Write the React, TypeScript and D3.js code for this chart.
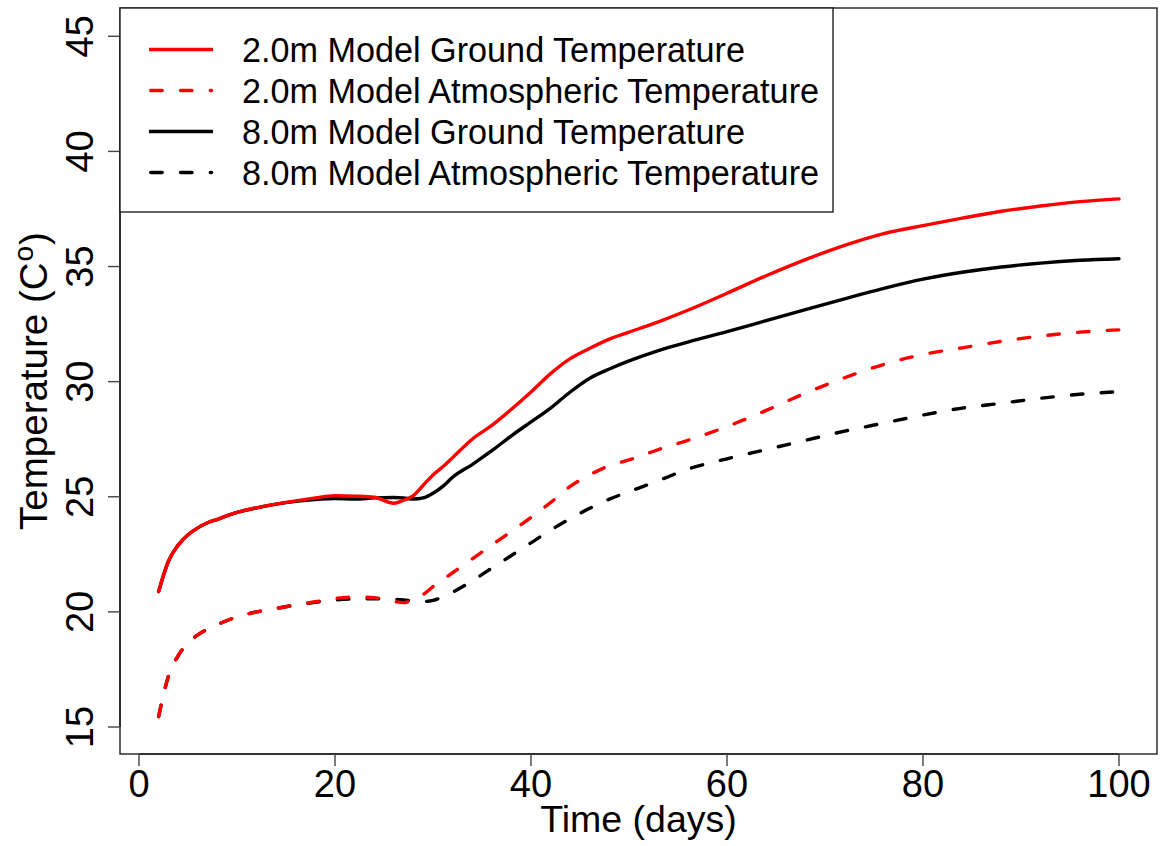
import React from "react";
import * as d3 from "d3";

const days = [2, 3, 4, 5, 6, 7, 8, 10, 12, 14, 16, 18, 20, 22, 24, 26, 27, 28, 29, 30, 31, 32, 34, 36, 38, 40, 42, 44, 46, 48, 50, 53, 56, 60, 64, 68, 72, 76, 80, 84, 88, 92, 96, 100];

const ground2 = [20.88, 22.2, 22.9, 23.35, 23.65, 23.87, 24.02, 24.32, 24.52, 24.68, 24.82, 24.95, 25.05, 25.03, 24.98, 24.72, 24.85, 25.05, 25.5, 25.95, 26.3, 26.7, 27.5, 28.1, 28.8, 29.55, 30.35, 31.0, 31.45, 31.85, 32.15, 32.6, 33.1, 33.84, 34.6, 35.3, 35.92, 36.43, 36.78, 37.1, 37.4, 37.63, 37.82, 37.94];

const atmos2 = [15.45, 17.2, 18.1, 18.65, 19.0, 19.25, 19.45, 19.78, 20.0, 20.15, 20.3, 20.44, 20.58, 20.65, 20.62, 20.45, 20.4, 20.55, 20.75, 21.1, 21.4, 21.7, 22.3, 22.9, 23.5, 24.1, 24.75, 25.45, 25.95, 26.35, 26.6, 27.05, 27.45, 28.05, 28.75, 29.5, 30.17, 30.75, 31.18, 31.47, 31.75, 31.98, 32.15, 32.25];

const ground8 = [20.88, 22.2, 22.9, 23.35, 23.65, 23.87, 24.02, 24.32, 24.52, 24.68, 24.8, 24.88, 24.92, 24.9, 24.95, 24.97, 24.95, 24.9, 24.95, 25.15, 25.45, 25.85, 26.4, 27.0, 27.65, 28.25, 28.85, 29.55, 30.15, 30.55, 30.9, 31.35, 31.72, 32.17, 32.65, 33.13, 33.6, 34.05, 34.45, 34.75, 34.98, 35.15, 35.27, 35.34];

const atmos8 = [15.45, 17.2, 18.1, 18.65, 19.0, 19.25, 19.45, 19.78, 20.0, 20.15, 20.3, 20.42, 20.52, 20.56, 20.57, 20.55, 20.52, 20.48, 20.45, 20.5, 20.65, 20.85, 21.35, 21.9, 22.45, 23.0, 23.55, 24.05, 24.5, 24.9, 25.22, 25.7, 26.2, 26.65, 27.05, 27.45, 27.85, 28.2, 28.55, 28.85, 29.06, 29.28, 29.45, 29.57];

const xTicks = [0, 20, 40, 60, 80, 100];
const yTicks = [15, 20, 25, 30, 35, 40, 45];

const seriesNames = [
  "2.0m Model Ground Temperature",
  "2.0m Model Atmospheric Temperature",
  "8.0m Model Ground Temperature",
  "8.0m Model Atmospheric Temperature",
];
const seriesColors = ["#ff0000", "#ff0000", "#000000", "#000000"];
const seriesDashed = [false, true, false, true];
const seriesValues = [ground2, atmos2, ground8, atmos8];

const FONT = "'Liberation Sans', Arial, Helvetica, sans-serif";

export default function App() {
  const W = 1162;
  const H = 846;
  const box = { left: 120, right: 1157, top: 8, bottom: 754 };
  const x = d3.scaleLinear().domain([0, 100]).range([139, 1119]);
  const y = d3.scaleLinear().domain([15, 45]).range([727, 36.3]);

  const line = d3
    .line<number>()
    .x((_, i) => x(days[i]))
    .y((v) => y(v))
    .curve(d3.curveMonotoneX);

  const drawOrder = [3, 1, 2, 0];
  const lw = 3.4;
  const dash = "11.5 18.3";

  return (
    <svg
      width={W}
      height={H}
      style={{ position: "absolute", left: 0, top: 0, background: "#fff" }}
      fontFamily={FONT}
    >
      <rect x={0} y={0} width={W} height={H} fill="#fff" />
      {drawOrder.map((k) => (
        <path
          key={k}
          d={line(seriesValues[k]) || ""}
          fill="none"
          stroke={seriesColors[k]}
          strokeWidth={lw}
          strokeLinecap="round"
          strokeLinejoin="round"
          strokeDasharray={seriesDashed[k] ? dash : undefined}
        />
      ))}
      <rect
        x={box.left}
        y={box.top}
        width={box.right - box.left}
        height={box.bottom - box.top}
        fill="none"
        stroke="#222"
        strokeWidth={1.4}
      />
      <line x1={x(0)} x2={x(100)} y1={box.bottom} y2={box.bottom} stroke="#222" strokeWidth={1.6} />
      {xTicks.map((t) => (
        <g key={t}>
          <line x1={x(t)} x2={x(t)} y1={box.bottom} y2={box.bottom + 12} stroke="#444" strokeWidth={1.4} />
          <text x={x(t)} y={797} fontSize={38} textAnchor="middle" fill="#000">
            {t}
          </text>
        </g>
      ))}
      <line x1={box.left} x2={box.left} y1={y(15)} y2={y(45)} stroke="#222" strokeWidth={1.6} />
      {yTicks.map((t) => (
        <g key={t}>
          <line x1={box.left - 12} x2={box.left} y1={y(t)} y2={y(t)} stroke="#444" strokeWidth={1.4} />
          <text
            transform={`translate(93,${y(t)}) rotate(-90)`}
            fontSize={38}
            textAnchor="middle"
            fill="#000"
          >
            {t}
          </text>
        </g>
      ))}
      <text x={(box.left + box.right) / 2} y={832} fontSize={37.5} textAnchor="middle" fill="#000">
        Time (days)
      </text>
      <text
        transform={`translate(47,${(box.top + box.bottom) / 2}) rotate(-90)`}
        fontSize={38.5}
        textAnchor="middle"
        fill="#000"
      >
        Temperature (C
        <tspan fontSize={28} dx={1} dy={-14}>o</tspan>
        <tspan dx={1} dy={14}>)</tspan>
      </text>
      <rect x={box.left} y={box.top} width={833 - box.left} height={212 - box.top} fill="#fff" stroke="#222" strokeWidth={1.4} />
      {seriesNames.map((name, i) => {
        const cy = 49.5 + i * 41;
        return (
          <g key={name}>
            <line
              x1={seriesDashed[i] ? 150.7 : 149}
              x2={seriesDashed[i] ? 211.5 : 213}
              y1={cy}
              y2={cy}
              stroke={seriesColors[i]}
              strokeWidth={lw}
              strokeLinecap={seriesDashed[i] ? "round" : "butt"}
              strokeDasharray={seriesDashed[i] ? dash : undefined}
            />
            <text x={242} y={cy + 12} fontSize={34.2} fill="#000">
              {name}
            </text>
          </g>
        );
      })}
    </svg>
  );
}
